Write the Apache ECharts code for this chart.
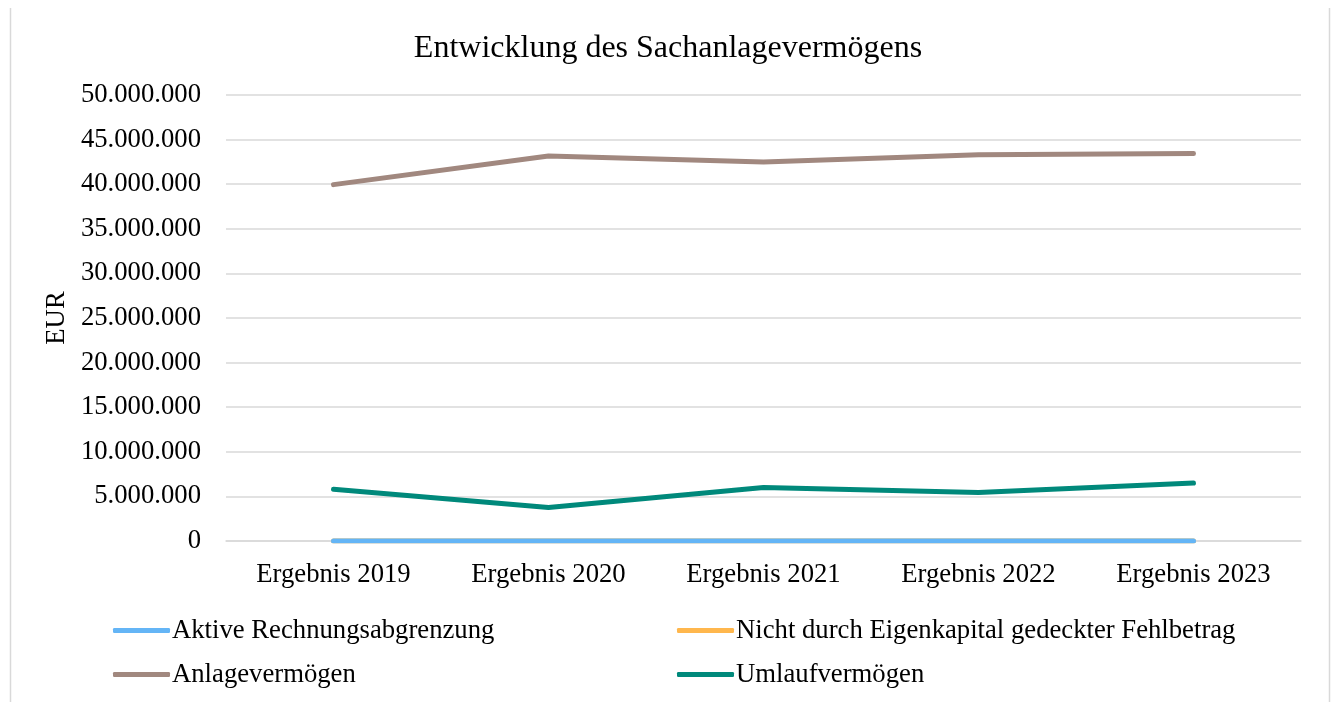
<!DOCTYPE html>
<html><head><meta charset="utf-8">
<script src="https://cdn.jsdelivr.net/npm/echarts@6/dist/echarts.min.js"></script>
<style>html,body{margin:0;padding:0;background:#fff}#c{width:1336px;height:702px}</style>
</head><body><div id="c"></div>
<script>
var categories = ['Ergebnis 2019','Ergebnis 2020','Ergebnis 2021','Ergebnis 2022','Ergebnis 2023'];
var aktiveRechnungsabgrenzung = [0, 0, 0, 0, 0];
var nichtGedeckterFehlbetrag = [0, 0, 0, 0, 0];
var anlagevermoegen = [39950000, 43150000, 42500000, 43300000, 43450000];
var umlaufvermoegen = [5800000, 3750000, 6000000, 5450000, 6500000];
var seriesNames = ['Aktive Rechnungsabgrenzung','Nicht durch Eigenkapital gedeckter Fehlbetrag','Anlagevermögen','Umlaufvermögen'];
var colors = ['#64B5F6','#FFB74D','#A1887F','#00897B'];

var FONT = "'Liberation Serif','Times New Roman',serif";
function fmt(v){ return String(v).replace(/\B(?=(\d{3})+(?!\d))/g,'.'); }
var chart = echarts.init(document.getElementById('c'));
var dataSets = [aktiveRechnungsabgrenzung, nichtGedeckterFehlbetrag, anlagevermoegen, umlaufvermoegen];
var zs = [4,2,3,5];
var legendPos = [[113,617],[677,617],[113,661],[677,661]];
chart.setOption({
  animation:false,
  backgroundColor:'#fff',
  title:{text:'Entwicklung des Sachanlagevermögens',left:'center',top:28,
    textStyle:{fontFamily:FONT,fontWeight:'normal',fontSize:32,color:'#000'}},
  graphic:[
    {type:'line',shape:{x1:10.5,y1:8,x2:10.5,y2:702},style:{stroke:'#d9d9d9',lineWidth:1.5}},
    {type:'line',shape:{x1:1329.5,y1:8,x2:1329.5,y2:702},style:{stroke:'#d9d9d9',lineWidth:1.5}}
  ],
  legend: seriesNames.map(function(n,i){return {
    data:[n],left:legendPos[i][0],top:legendPos[i][1],padding:0,icon:'roundRect',itemWidth:57,itemHeight:5,itemGap:0,
    textStyle:{fontFamily:FONT,fontSize:26.7,color:'#000',padding:[0,0,0,-3]}};}),
  grid:{left:226,right:35,top:95,bottom:161,containLabel:false},
  xAxis:{type:'category',data:categories,boundaryGap:true,
    axisLine:{show:true,lineStyle:{color:'#d9d9d9',width:1.5}},axisTick:{show:false},
    axisLabel:{fontFamily:FONT,fontSize:26.7,color:'#000',margin:20}},
  yAxis:{type:'value',min:0,max:50000000,interval:5000000,
    name:'EUR',nameLocation:'middle',nameGap:143,nameRotate:90,
    nameTextStyle:{fontFamily:FONT,fontSize:26.7,color:'#000'},
    axisLine:{show:false},axisTick:{show:false},
    splitLine:{lineStyle:{color:'#d9d9d9',width:1.5}},
    axisLabel:{fontFamily:FONT,fontSize:26.7,color:'#000',margin:25,formatter:fmt}},
  series: seriesNames.map(function(n,i){return {
    name:n,type:'line',data:dataSets[i],z:zs[i],symbol:'none',showSymbol:false,
    color:colors[i],lineStyle:{color:colors[i],width:5,cap:'round',join:'round'}};})
});
</script></body></html>
